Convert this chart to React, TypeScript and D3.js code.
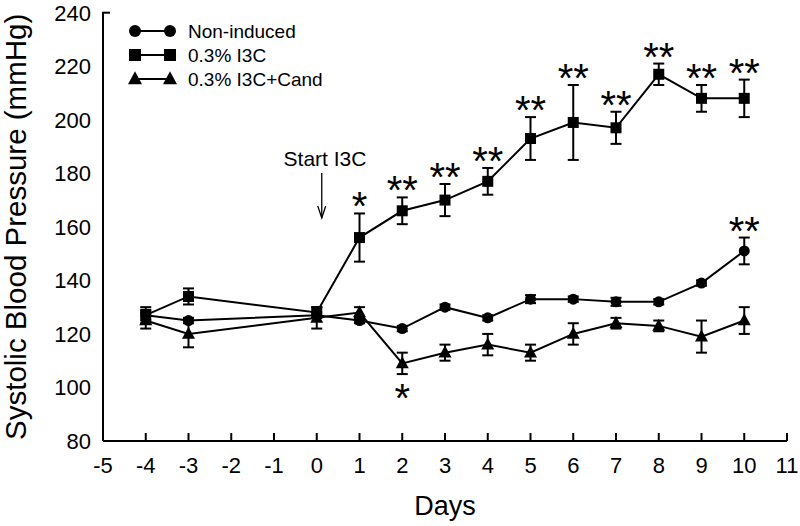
import React from "react";
import * as d3 from "d3";

const days = [-4, -3, 0, 1, 2, 3, 4, 5, 6, 7, 8, 9, 10];
const nonInduced = [127, 125, 127, 125, 122, 130, 126, 133, 133, 132, 132, 139, 151];
const nonInducedErr = [2, 1, 1, 1, 1, 1, 1, 1.5, 1, 1.5, 1, 1, 5];
const i3c = [127, 134, 128, 156, 166, 170, 177, 193, 199, 197, 217, 208, 208];
const i3cErr = [3, 3, 2, 9, 5, 6, 5, 8, 14, 6, 4, 5, 7];
const i3cCand = [125, 120, 126, 128, 109, 113, 116, 113, 120, 124, 123, 119, 125];
const i3cCandErr = [3, 5, 4, 2, 4, 3, 4, 3, 4, 2, 2, 6, 5];
const i3cSig = ["", "", "", "*", "**", "**", "**", "**", "**", "**", "**", "**", "**"];
const nonInducedSig = ["", "", "", "", "", "", "", "", "", "", "", "", "**"];
const candSigBelow = ["", "", "", "", "*", "", "", "", "", "", "", "", ""];
const xTicks = [-5, -4, -3, -2, -1, 0, 1, 2, 3, 4, 5, 6, 7, 8, 9, 10, 11];
const yTicks = [80, 100, 120, 140, 160, 180, 200, 220, 240];
const legendLabels = ["Non-induced", "0.3% I3C", "0.3% I3C+Cand"];

const FONT = "'Liberation Sans', Arial, sans-serif";

type Shape = "circle" | "square" | "triangle";

function Marker({ x, y, shape, size = 11 }: { x: number; y: number; shape: Shape; size?: number }) {
  if (shape === "circle") return <circle cx={x} cy={y} r={size / 2} fill="#000" />;
  if (shape === "square")
    return <rect x={x - size / 2} y={y - size / 2} width={size} height={size} fill="#000" />;
  const w = size + 2;
  const h = size + 1;
  return (
    <path
      d={`M${x},${y - h * 0.6} L${x + w / 2},${y + h * 0.4} L${x - w / 2},${y + h * 0.4} Z`}
      fill="#000"
    />
  );
}

export default function App() {
  const x = d3.scaleLinear().domain([-5, 11]).range([103, 787]);
  const y = d3.scaleLinear().domain([80, 240]).range([441, 12.7]);
  const line = d3
    .line<number>()
    .x((_, i) => x(days[i]))
    .y((v) => y(v));

  const series: { vals: number[]; errs: number[]; shape: Shape }[] = [
    { vals: nonInduced, errs: nonInducedErr, shape: "circle" },
    { vals: i3c, errs: i3cErr, shape: "square" },
    { vals: i3cCand, errs: i3cCandErr, shape: "triangle" },
  ];

  const capW = 11;
  const starProps = { fontSize: 40, fontFamily: FONT, textAnchor: "middle" as const };

  return (
    <svg
      width={800}
      height={526}
      style={{ position: "absolute", left: 0, top: 0, background: "#fff" }}
      fontFamily={FONT}
    >
      {/* axes */}
      <line x1={x(-5)} x2={x(11)} y1={y(80)} y2={y(80)} stroke="#000" strokeWidth={2} />
      <line x1={x(-5)} x2={x(-5)} y1={y(80)} y2={y(240)} stroke="#000" strokeWidth={2} />
      <line x1={x(-5) - 1} x2={x(-5) + 7} y1={y(240)} y2={y(240)} stroke="#000" strokeWidth={2} />
      {xTicks.map((t) => (
        <g key={"xt" + t}>
          {t !== -5 && (
            <line x1={x(t)} x2={x(t)} y1={y(80)} y2={y(80) - 8} stroke="#000" strokeWidth={2} />
          )}
          <text x={x(t)} y={473} fontSize={22} textAnchor="middle">
            {t}
          </text>
        </g>
      ))}
      {yTicks.map((t) => (
        <text key={"yt" + t} x={91} y={y(t) + 8} fontSize={22} textAnchor="end">
          {t}
        </text>
      ))}
      <text
        transform={`translate(26,${(y(80) + y(240)) / 2}) rotate(-90)`}
        fontSize={29.5}
        textAnchor="middle"
      >
        Systolic Blood Pressure (mmHg)
      </text>
      <text x={445} y={515} fontSize={27} textAnchor="middle">
        Days
      </text>

      {/* series lines */}
      {series.map((s, k) => (
        <path key={"l" + k} d={line(s.vals) || ""} fill="none" stroke="#000" strokeWidth={2} />
      ))}
      {/* error bars */}
      {series.map((s, k) =>
        s.vals.map((v, i) => {
          const cx = x(days[i]);
          const top = y(v + s.errs[i]);
          const bot = y(v - s.errs[i]);
          return (
            <g key={"e" + k + "-" + i} stroke="#000" strokeWidth={2}>
              <line x1={cx} x2={cx} y1={top} y2={bot} />
              <line x1={cx - capW / 2} x2={cx + capW / 2} y1={top} y2={top} />
              <line x1={cx - capW / 2} x2={cx + capW / 2} y1={bot} y2={bot} />
            </g>
          );
        })
      )}
      {/* markers */}
      {series.map((s, k) =>
        s.vals.map((v, i) => <Marker key={"m" + k + "-" + i} x={x(days[i])} y={y(v)} shape={s.shape} />)
      )}

      {/* significance */}
      {i3c.map((v, i) =>
        i3cSig[i] ? (
          <text key={"s1" + i} x={x(days[i])} y={y(v + i3cErr[i]) + 7} {...starProps}>
            {i3cSig[i]}
          </text>
        ) : null
      )}
      {nonInduced.map((v, i) =>
        nonInducedSig[i] ? (
          <text key={"s2" + i} x={x(days[i])} y={y(v + nonInducedErr[i]) + 7} {...starProps}>
            {nonInducedSig[i]}
          </text>
        ) : null
      )}
      {i3cCand.map((v, i) =>
        candSigBelow[i] ? (
          <text key={"s3" + i} x={x(days[i])} y={y(v - i3cCandErr[i]) + 38} {...starProps}>
            {candSigBelow[i]}
          </text>
        ) : null
      )}

      {/* Start I3C annotation */}
      <text x={325} y={166} fontSize={21} textAnchor="middle">
        Start I3C
      </text>
      <g stroke="#000" strokeWidth={1.3} fill="none">
        <line x1={x(0) + 5} x2={x(0) + 5} y1={173} y2={218} />
        <path d={`M${x(0) + 1},${206} L${x(0) + 5},${218} L${x(0) + 9},${206}`} />
      </g>

      {/* legend */}
      {legendLabels.map((lab, i) => {
        const ly = 31 + i * 24;
        const shape: Shape = i === 0 ? "circle" : i === 1 ? "square" : "triangle";
        return (
          <g key={"lg" + i}>
            <line x1={135} x2={170} y1={ly} y2={ly} stroke="#000" strokeWidth={2} />
            <Marker x={135} y={ly} shape={shape} size={12} />
            <Marker x={170} y={ly} shape={shape} size={12} />
            <text x={188} y={ly + 7} fontSize={19}>
              {lab}
            </text>
          </g>
        );
      })}
    </svg>
  );
}
